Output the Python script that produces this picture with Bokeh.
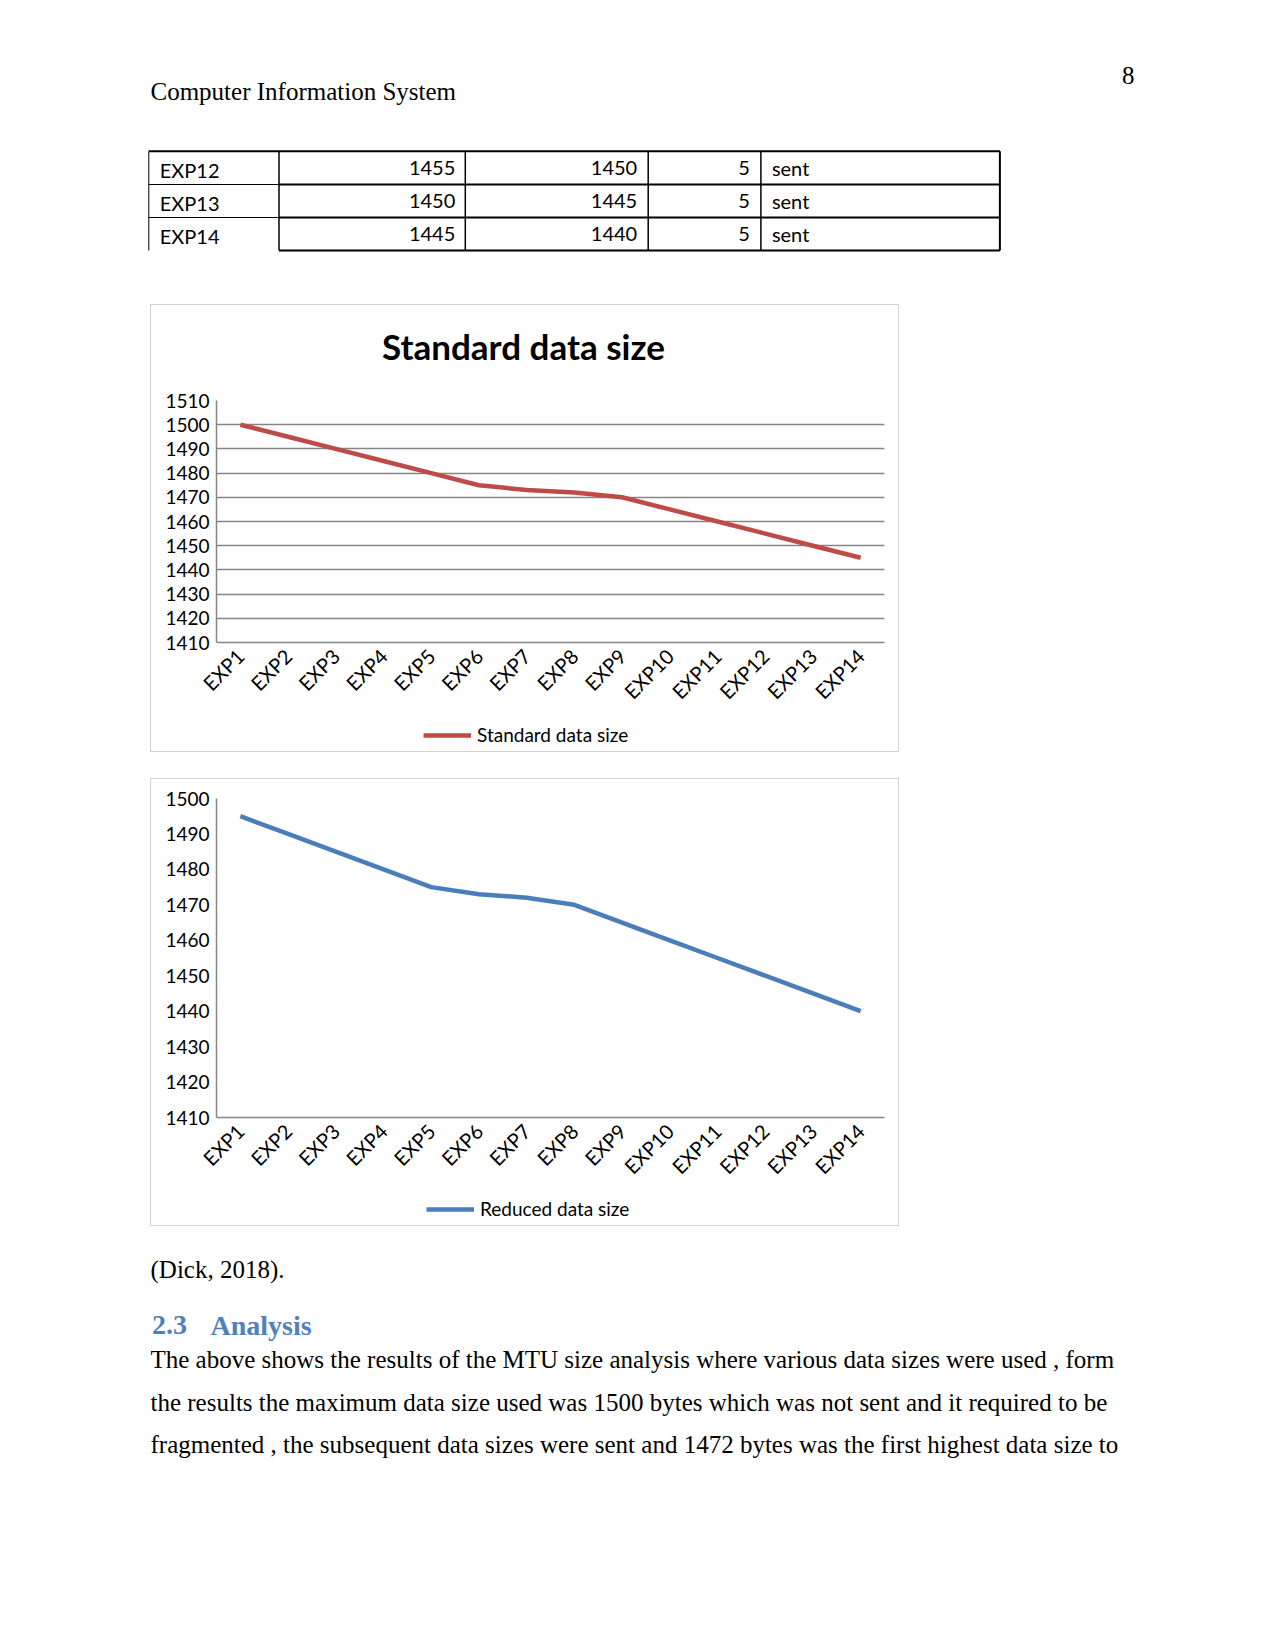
import math
from bokeh.plotting import figure
from bokeh.layouts import column, row
from bokeh.models import (Range1d, FactorRange, FixedTicker, Legend, LegendItem, Spacer, Label)
from bokeh.core.properties import value
from bokeh.embed import file_html
from bokeh.resources import INLINE

# ---------------- data ----------------
experiments = ["EXP1", "EXP2", "EXP3", "EXP4", "EXP5", "EXP6", "EXP7",
               "EXP8", "EXP9", "EXP10", "EXP11", "EXP12", "EXP13", "EXP14"]
standard_size = [1500, 1495, 1490, 1485, 1480, 1475, 1473, 1472, 1470,
                 1465, 1460, 1455, 1450, 1445]
reduced_size = [1495, 1490, 1485, 1480, 1475, 1473, 1472, 1470, 1465,
                1460, 1455, 1450, 1445, 1440]
chart1_ticks = [1410, 1420, 1430, 1440, 1450, 1460, 1470, 1480, 1490, 1500, 1510]
chart2_ticks = [1410, 1420, 1430, 1440, 1450, 1460, 1470, 1480, 1490, 1500]

table_names = ["EXP12", "EXP13", "EXP14"]
table_standard = [1455, 1450, 1445]
table_reduced = [1450, 1445, 1440]
table_diff = [5, 5, 5]
table_status = ["sent", "sent", "sent"]

header_text = "Computer Information System"
page_number = "8"
chart1_title = "Standard data size"
chart1_series = "Standard data size"
chart2_series = "Reduced data size"
citation = "(Dick, 2018)."
heading_num = "2.3"
heading_text = "Analysis"
body_lines = [
    "The above shows the results of the MTU size analysis where various data sizes were used , form",
    "the results the maximum data size used was 1500 bytes which was not sent and it required to be",
    "fragmented , the subsequent data sizes were sent and 1472 bytes was the first highest data size to",
]

SERIF = value("Liberation Serif")
SANS = "Lato"
RED = "#BE4B48"
BLUE = "#4A7EBB"
GRID = "#868686"
BOX = "#d3d3d3"

# ---------------- top part of page (page y 0 .. 304) ----------------
top = figure(width=1259, height=304, x_range=Range1d(0, 1259), y_range=Range1d(304, 0),
             x_axis_type=None, y_axis_type=None, toolbar_location=None,
             output_backend="svg", min_border=0, outline_line_color=None)
top.grid.visible = False

top.text(x=[150], y=[90.5], text=[header_text], text_font=SERIF, text_font_size="25px",
         text_baseline="alphabetic", text_align="left", text_color="#000000")
top.text(x=[1134], y=[74.5], text=[page_number], text_font=SERIF, text_font_size="25px",
         text_baseline="alphabetic", text_align="right", text_color="#000000")

col_edges = [148.3, 278.5, 464.8, 647.7, 760.4, 999.4]
row_edges = [150.7, 184.0, 217.0, 250.0]
row_mid = [(row_edges[i] + row_edges[i + 1]) / 2 for i in range(3)]

top.segment(x0=[col_edges[0]], y0=[row_edges[0]], x1=[col_edges[-1]], y1=[row_edges[0]],
            line_color="#000000", line_width=2)
top.segment(x0=[col_edges[1]] * 3, y0=row_edges[1:], x1=[col_edges[-1]] * 3, y1=row_edges[1:],
            line_color="#000000", line_width=2)
top.segment(x0=[col_edges[0]] * 2, y0=row_edges[1:3], x1=[col_edges[1]] * 2, y1=row_edges[1:3],
            line_color="#000000", line_width=1)
top.segment(x0=[col_edges[0]], y0=[row_edges[0]], x1=[col_edges[0]], y1=[row_edges[-1]],
            line_color="#000000", line_width=1)
top.segment(x0=col_edges[1:], y0=[row_edges[0]] * 5, x1=col_edges[1:], y1=[row_edges[-1]] * 5,
            line_color="#000000", line_width=[1.5, 1.5, 1.5, 1.5, 2])

cell_font = dict(text_font=value(SANS), text_font_size="20px", text_color="#000000",
                 text_baseline="middle")
top.text(x=[col_edges[0] + 11] * 3, y=[m + 2 for m in row_mid], text=table_names,
         text_align="left", **cell_font)
top.text(x=[col_edges[2] - 10] * 3, y=row_mid, text=[str(v) for v in table_standard],
         text_align="right", **cell_font)
top.text(x=[col_edges[3] - 11] * 3, y=row_mid, text=[str(v) for v in table_reduced],
         text_align="right", **cell_font)
top.text(x=[col_edges[4] - 11] * 3, y=row_mid, text=[str(v) for v in table_diff],
         text_align="right", **cell_font)
top.text(x=[col_edges[4] + 11] * 3, y=row_mid, text=table_status,
         text_align="left", **cell_font)


# ---------------- charts ----------------
INNER_H = 446
LEGEND_H = 36
TITLE_H = 70


def make_chart(values, ticks, color, height, top_border, frame_h, y_lo, y_hi, gridlines):
    p = figure(width=747, height=height, x_range=FactorRange(*experiments, range_padding=0),
               y_range=Range1d(y_lo, y_hi), toolbar_location=None, output_backend="svg",
               min_border_left=65, min_border_right=14,
               min_border_top=top_border,
               min_border_bottom=height - top_border - frame_h,
               outline_line_color=None, background_fill_color="white",
               border_fill_color="white")
    p.xgrid.visible = False
    if gridlines:
        p.ygrid.grid_line_color = GRID
        p.ygrid.grid_line_width = 1.3
        p.ygrid.ticker = FixedTicker(ticks=ticks)
    else:
        p.ygrid.visible = False
    p.yaxis.ticker = FixedTicker(ticks=ticks)
    for ax in (p.xaxis[0], p.yaxis[0]):
        ax.axis_line_color = GRID
        ax.axis_line_width = 1.5
        ax.major_tick_line_color = None
        ax.minor_tick_line_color = None
        ax.major_tick_out = 0
        ax.major_tick_in = 0
        ax.major_label_text_font = SANS
        ax.major_label_text_color = "#000000"
    p.yaxis.major_label_text_font_size = "19px"
    p.xaxis.major_label_text_font_size = "20px"
    p.yaxis.major_label_standoff = 7
    p.xaxis.major_label_standoff = 10
    p.xaxis.major_label_orientation = math.pi / 4
    p.line(x=experiments, y=values, line_color=color, line_width=4.5, line_join="round")
    return p


def make_title(text):
    tf = figure(width=747, height=TITLE_H, x_range=Range1d(0, 1), y_range=Range1d(0, 1),
                x_axis_type=None, y_axis_type=None, toolbar_location=None,
                output_backend="svg", min_border=0, outline_line_color=None)
    tf.grid.visible = False
    tf.add_layout(Label(x=307, y=29.5, x_units="screen", y_units="screen", text=text,
                        text_align="center", text_baseline="middle", text_font=SANS,
                        text_font_size="35px", text_font_style="bold",
                        text_color="#000000"))
    return tf


def make_legend(values, color, label, legend_x):
    # legend strip below the chart; its key is the same series drawn outside the
    # strip's (0..1) value window, so only the legend key is visible
    lf = figure(width=747, height=LEGEND_H, x_range=FactorRange(*experiments, range_padding=0),
                y_range=Range1d(0, 1),
                x_axis_type=None, y_axis_type=None, toolbar_location=None,
                output_backend="svg", min_border=0, outline_line_color=None)
    lf.grid.visible = False
    key = lf.line(x=experiments, y=values, line_color=color, line_width=4.5)
    leg = Legend(items=[LegendItem(label=label, renderers=[key])],
                 location=(legend_x, 5), padding=0, margin=0, spacing=0,
                 border_line_color=None, background_fill_alpha=0,
                 glyph_width=48, glyph_height=20, label_height=20, label_standoff=6,
                 label_text_font=SANS, label_text_font_size="19px",
                 label_text_color="#000000")
    lf.add_layout(leg, "center")
    return lf


def boxed(parts):
    line = {"background-color": BOX}
    return row(Spacer(width=150, height=INNER_H + 2),
               column(Spacer(width=749, height=1, styles=line),
                      row(Spacer(width=1, height=INNER_H, styles=line),
                          column(*parts),
                          Spacer(width=1, height=INNER_H, styles=line)),
                      Spacer(width=749, height=1, styles=line)))


title1 = make_title(chart1_title)
chart1 = make_chart(standard_size, chart1_ticks, RED, INNER_H - LEGEND_H - TITLE_H,
                    95 - TITLE_H, 242, 1410, 1510, True)
legend1 = make_legend(standard_size, RED, chart1_series, 207)
chart2 = make_chart(reduced_size, chart2_ticks, BLUE, INNER_H - LEGEND_H,
                    19, 320, 1410, 1500, False)
legend2 = make_legend(reduced_size, BLUE, chart2_series, 210)

# ---------------- bottom part of page (page y 1226 .. 1480) ----------------
bottom = figure(width=1259, height=254, x_range=Range1d(0, 1259), y_range=Range1d(1480, 1226),
                x_axis_type=None, y_axis_type=None, toolbar_location=None,
                output_backend="svg", min_border=0, outline_line_color=None)
bottom.grid.visible = False
bottom.text(x=[150], y=[1269], text=[citation], text_font=SERIF, text_font_size="25px",
            text_baseline="alphabetic", text_color="#000000")
bottom.text(x=[151.5, 210], y=[1324.7, 1324.7], text=[heading_num, heading_text],
            text_font=SERIF, text_font_size="28px", text_font_style="bold",
            text_baseline="alphabetic", text_color="#4F81BD")
bottom.text(x=[150] * 3, y=[1359, 1401.5, 1444], text=body_lines, text_font=SERIF,
            text_font_size="25px", text_baseline="alphabetic", text_color="#000000")

page = column(top,
              boxed([title1, chart1, legend1]),
              Spacer(width=10, height=26),
              boxed([chart2, legend2]),
              bottom)

open("out.html", "w").write(file_html(page, INLINE))
